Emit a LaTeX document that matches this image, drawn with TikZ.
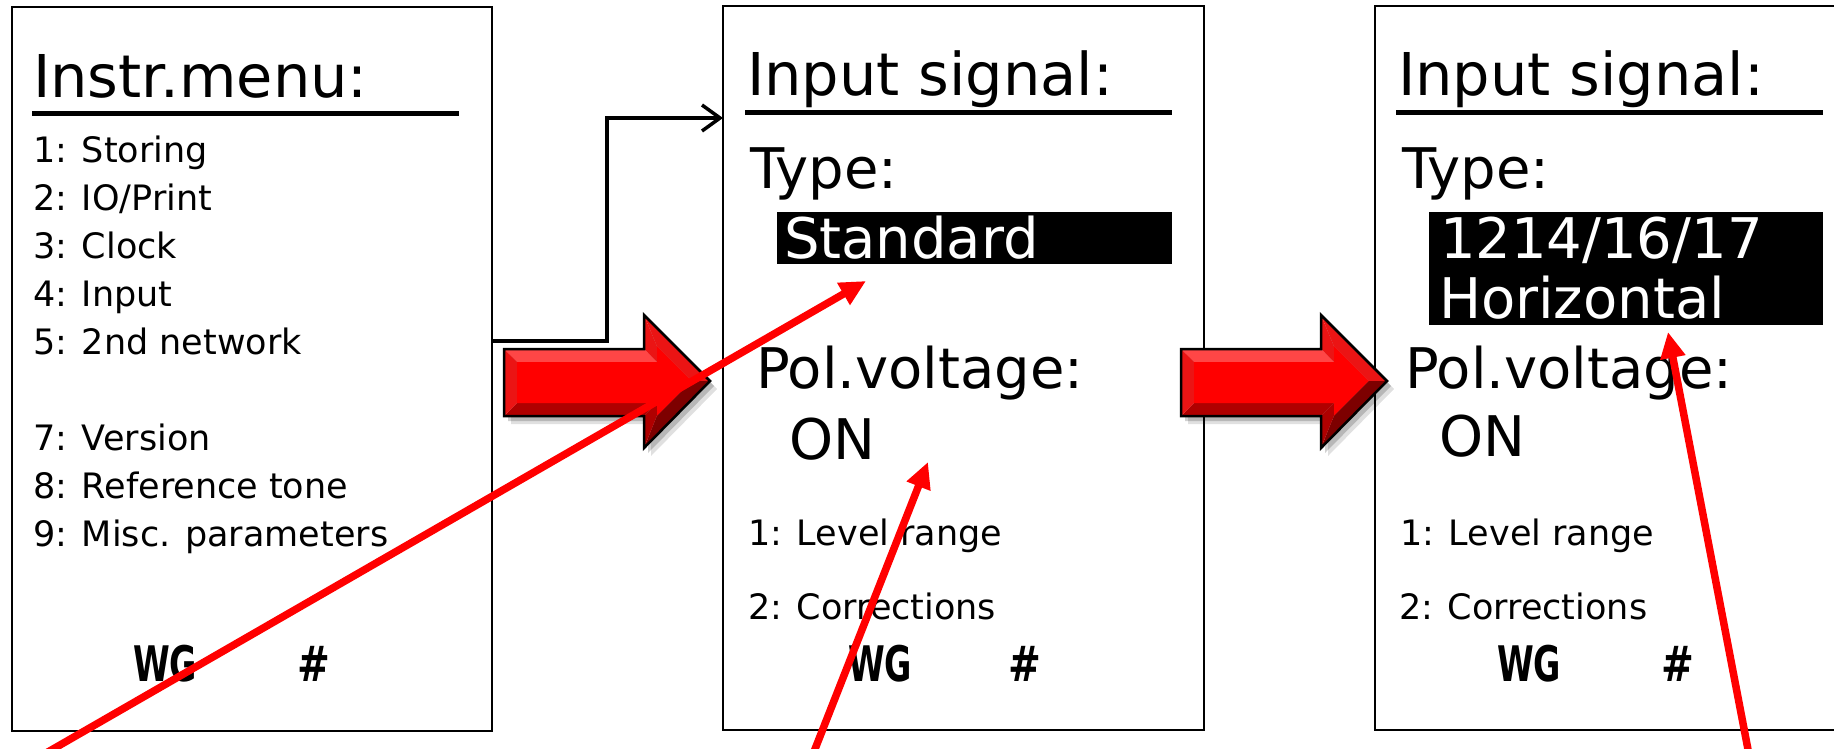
\documentclass[tikz,border=0pt]{standalone}
\usepackage{fontspec}
\setmainfont{DejaVu Sans}
\usetikzlibrary{arrows.meta}
\definecolor{rmain}{RGB}{255,0,0}
\definecolor{rlight}{RGB}{255,70,70}
\definecolor{rmid}{RGB}{235,20,20}
\definecolor{rdark}{RGB}{175,0,0}
\definecolor{rdarker}{RGB}{125,0,0}
\tikzset{
 panel/.style={draw=black, line width=2pt, fill=white, inner sep=0pt, outer sep=0pt, anchor=north west},
 ttl/.style={font=\fontsize{59}{62}\selectfont, anchor=base west, inner sep=0pt, outer sep=0pt},
 big/.style={font=\fontsize{56}{60}\selectfont, anchor=base west, inner sep=0pt, outer sep=0pt},
 small/.style={font=\fontsize{35}{37}\selectfont, anchor=base west, inner sep=0pt, outer sep=0pt},
 inv/.style={big, text=white},
 selbox/.style={fill=black, inner sep=0pt, outer sep=0pt, anchor=north west},
 foot/.style={font=\fontsize{49}{50}\selectfont\bfseries, anchor=base west, inner sep=0pt, outer sep=0pt},
 uline/.style={line width=5pt},
 conn/.style={draw=black, line width=3.5pt, -{Straight Barb[length=18pt,width=26pt]}},
 note/.style={draw=rmain, line width=7.5pt, -{Triangle[length=26pt,width=24pt]}},
}
\newcommand\bigredarrow{%
 \fill[black, opacity=0.12, shift={(7,8)}] (504,349) -- (644,349) -- (644,315) -- (710,381) -- (644,448) -- (644,416) -- (504,416) -- cycle;
 \fill[black, opacity=0.18, shift={(4,5)}] (504,349) -- (644,349) -- (644,315) -- (710,381) -- (644,448) -- (644,416) -- (504,416) -- cycle;
 \fill[rlight] (504,349) -- (644,349) -- (657,362) -- (517,362) -- cycle;
 \fill[rmid] (644,349) -- (644,315) -- (657,346.4) -- (657,362) -- cycle;
 \fill[rmid] (644,315) -- (710,381) -- (691.6,381) -- (657,346.4) -- cycle;
 \fill[rdarker] (710,381) -- (644,448) -- (657,415.6) -- (691.6,381) -- cycle;
 \fill[rdark] (644,448) -- (644,416) -- (657,403) -- (657,415.6) -- cycle;
 \fill[rdark] (644,416) -- (504,416) -- (517,403) -- (657,403) -- cycle;
 \fill[rmid] (504,416) -- (504,349) -- (517,362) -- (517,403) -- cycle;
 \fill[rmain] (517,362) -- (657,362) -- (657,346.4) -- (691.6,381) -- (657,415.6) -- (657,403) -- (517,403) -- cycle;
 \draw[black, line width=2.5pt, line join=miter] (504,349) -- (644,349) -- (644,315) -- (710,381) -- (644,448) -- (644,416) -- (504,416) -- cycle;
}
\begin{document}
\begin{tikzpicture}[x=1pt, y=-1pt]
\useasboundingbox (0,0) rectangle (1834,749);
\clip (0,0) rectangle (1834,749);
\fill[white] (0,0) rectangle (1834,749);

% ---------- panel 1
\node[panel, minimum width=480pt, minimum height=724pt] (p1) at (12,7) {};
\node[ttl] (p1t) at (33,98) {Instr.menu:};
\draw[uline] (32,114) -- (459,114);
\node[small] (i1) at (33,162) {1: Storing};
\node[small] (i2) at (33,210) {2: IO/Print};
\node[small] (i3) at (33,258) {3: Clock};
\node[small] (i4) at (33,306) {4: Input};
\node[small] (i5) at (33,354) {5: 2nd network};
\node[small] (i7) at (33,450) {7: Version};
\node[small] (i8) at (33,498) {8: Reference tone};
\node[small] (i9) at (33,546) {9: Misc. parameters};
\node[foot] (p1wg) at (133,681) {\scalebox{0.68}[1]{WG}};
\node[foot] (p1h) at (297,681) {\scalebox{0.8}[1]{\#}};

% ---------- panel 2
\node[panel, minimum width=481pt, minimum height=724pt] (p2) at (723,6) {};
\node[ttl] (p2t) at (747,96) {Input signal:};
\draw[uline] (745,113) -- (1172,113);
\node[big] (p2type) at (750,189) {Type:};
\node[selbox, minimum width=395pt, minimum height=52pt] (p2box) at (777,212) {};
\node[inv] (p2std) at (784,258) {Standard};
\node[big] (p2pol) at (756,388) {Pol.voltage:};
\node[big] (p2on) at (789,459) {ON};
\node[small] (p2l1) at (748,545) {1: Level range};
\node[small] (p2l2) at (748,619) {2: Corrections};
\node[foot] (p2wg) at (848,681) {\scalebox{0.68}[1]{WG}};
\node[foot] (p2h) at (1008,681) {\scalebox{0.8}[1]{\#}};

% ---------- panel 3
\node[panel, minimum width=520pt, minimum height=724pt] (p3) at (1375,6) {};
\node[ttl] (p3t) at (1398,96) {Input signal:};
\draw[uline] (1396,113) -- (1823,113);
\node[big] (p3type) at (1402,189) {Type:};
\node[selbox, minimum width=394pt, minimum height=113pt] (p3box) at (1429,212) {};
\node[inv] (p3num) at (1440,258) {1214/16/17};
\node[inv] (p3hor) at (1439,318) {Horizontal};
\node[big] (p3pol) at (1405,388) {Pol.voltage:};
\node[big] (p3on) at (1439,456) {ON};
\node[small] (p3l1) at (1400,545) {1: Level range};
\node[small] (p3l2) at (1399,619) {2: Corrections};
\node[foot] (p3wg) at (1497,681) {\scalebox{0.68}[1]{WG}};
\node[foot] (p3h) at (1661,681) {\scalebox{0.8}[1]{\#}};

% ---------- black connector
\draw[conn] ([yshift=-334pt]p1.north east) -| ([xshift=-116pt,yshift=-112pt]p2.north west) -- ([yshift=-112pt]p2.north west);

% ---------- big red arrows
\bigredarrow
\begin{scope}[shift={(677,0)}]
\bigredarrow
\end{scope}

% ---------- red annotation arrows
\coordinate (s1) at (34,760);
\coordinate (e1) at (866,281);
\coordinate (s2) at (810.7,760);
\coordinate (e2) at (928,462);
\coordinate (s3) at (1750,760);
\coordinate (e3) at (1668,332);
\draw[note] (s1) -- (e1);
\draw[note] (s2) -- (e2);
\draw[note] (s3) -- (e3);
\end{tikzpicture}
\end{document}
